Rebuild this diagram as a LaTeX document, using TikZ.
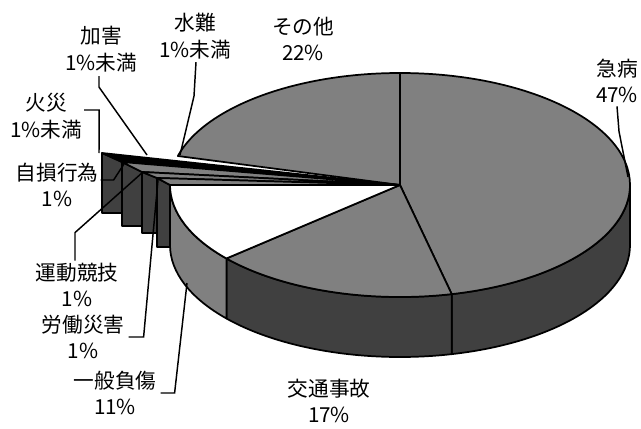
\documentclass[tikz,border=0pt]{standalone}
\usepackage{fontspec}
\usepackage{xcolor}
\setmainfont{Noto Sans CJK JP}

\definecolor{topgrey}{HTML}{808080}
\definecolor{sidegrey}{HTML}{404040}

\tikzset{
    rim/.style={x radius=230, y radius=112},
    topface/.style={fill=topgrey, draw=black, line width=1.3pt, line join=round},
    sideface/.style={fill=sidegrey, draw=black, line width=1.3pt, line join=round},
    leader/.style={draw=black, line width=1.1pt},
    lbl/.style={align=center, inner sep=0pt, font=\fontsize{15.5}{20}\selectfont}
}

\begin{document}
\begin{tikzpicture}[x=0.75pt, y=-0.75pt]

        \useasboundingbox (0,0) rectangle (641,428);

        % Rim points of the top face
        \coordinate (C) at (400,185);
        \foreach \t in {0,77,139,180,195,270}
            \coordinate (r\t) at ({400+230*cos(\t)},{185+112*sin(\t)});

        % Draw side walls
        \draw[sideface] (r0) arc[rim, start angle=0, end angle=77] -- ++(0,60)
            arc[rim, start angle=77, end angle=0] -- cycle;
        \draw[sideface] (r77) arc[rim, start angle=77, end angle=139] -- ++(0,60)
            arc[rim, start angle=139, end angle=77] -- cycle;
        \draw[topface] (r139) arc[rim, start angle=139, end angle=180] -- ++(0,60)
            arc[rim, start angle=180, end angle=139] -- cycle;

        % Draw top faces
        \draw[topface] (C) -- (r195) arc[rim, start angle=195, end angle=270] -- cycle;
        \draw[topface] (C) -- (r270) arc[rim, start angle=270, end angle=437] -- cycle;
        \draw[topface] (C) -- (r77) arc[rim, start angle=77, end angle=139] -- cycle;
        \draw[topface, fill=white] (C) -- (r139) arc[rim, start angle=139, end angle=180] -- cycle;

        % Draw the small slices
        \foreach \xa/\ya/\xb/\yb/\yc in {102/153/122/162/213, 122/162/142/172/226,
                                         142/172/157/178/233, 157/178/170/185/247}
            \draw[sideface] (\xa,\ya) -- (\xb,\yb) -- (\xb,\yc) -- (\xa,\yc) -- cycle;
        \foreach \xa/\ya/\xb/\yb/\col in {102/153/122/162/black, 122/162/142/172/topgrey,
                                          142/172/157/178/topgrey, 157/178/170/185/topgrey}
            \draw[topface, fill=\col] (\xa,\ya) -- (\xb,\yb) -- (C) -- cycle;

        % Labels
        \node[lbl] (kyubyo) at (617,81) {急病\\47\%};
        \node[lbl] (sonota) at (303,39) {その他\\22\%};
        \node[lbl] (suinan) at (195,36) {水難\\1\%未満};
        \node[lbl] (kagai) at (101,49) {加害\\1\%未満};
        \node[lbl] (kasai) at (46,116) {火災\\1\%未満};
        \node[lbl] (jison) at (57,185) {自損行為\\1\%};
        \node[lbl] (undo) at (77,285) {運動競技\\1\%};
        \node[lbl] (rodo) at (83,337) {労働災害\\1\%};
        \node[lbl] (ippan) at (115,393) {一般負傷\\11\%};
        \node[lbl] (kotsu) at (329,401) {交通事故\\17\%};

        % Leader lines
        \coordinate (kyubyoPt) at (628,177);
        \coordinate (suinanPt) at (180,155);
        \coordinate (kagaiPt) at (147,155);
        \coordinate (kasaiPt) at (99,153);
        \coordinate (jisonPt) at (124,164);
        \coordinate (undoPt) at (143,172);
        \coordinate (rodoPt) at (158,180);
        \coordinate (ippanPt) at (187,283);

        \draw[leader] ([shift={(0,3)}]kyubyo.south) -- ++(2,25) -- (kyubyoPt);
        \draw[leader] ([shift={(1,3)}]suinan.south) -- ++(-2,34) -- (suinanPt);
        \draw[leader] ([shift={(-2,4)}]kagai.south) -- ++(0,11) -- (kagaiPt);
        \draw[leader] ([shift={(2,-6)}]kasai.east) -- ++(15,0) -- (kasaiPt);
        \draw[leader] ([shift={(2,-5)}]jison.east) -- ++(13,0) -- (jisonPt);
        \draw[leader] ([shift={(-2,-2)}]undo.north) -- ++(0,-28) -- (undoPt);
        \draw[leader] ([xshift=3]rodo.east) -- ++(15,0) -- (rodoPt);
        \draw[leader] ([xshift=3]ippan.east) -- ++(14,0) -- (ippanPt);

\end{tikzpicture}
\end{document}
